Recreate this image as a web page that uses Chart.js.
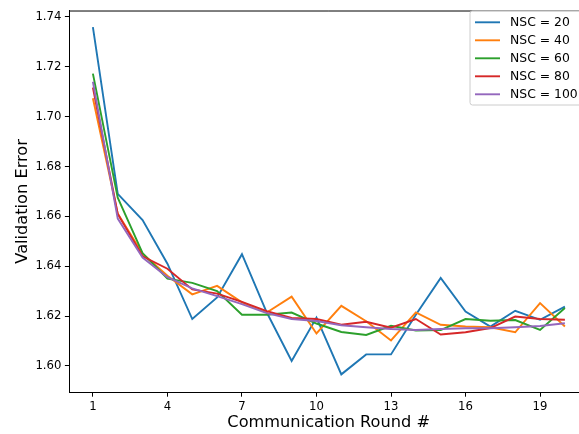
<!DOCTYPE html>
<html>
<head>
<meta charset="utf-8">
<script src="https://cdn.jsdelivr.net/npm/chart.js@4.4.1/dist/chart.umd.min.js"></script>
<style>
  html, body { margin: 0; padding: 0; background: #fff; overflow: hidden; width: 579px; height: 434px; }
  #wrap { position: relative; width: 590px; height: 434px; }
</style>
</head>
<body>
<div id="wrap"><canvas id="c" width="590" height="434"></canvas></div>
<script>
// Communication rounds and validation error per number of selected clients (NSC)
const rounds = [1, 2, 3, 4, 5, 6, 7, 8, 9, 10, 11, 12, 13, 14, 15, 16, 17, 18, 19, 20];
const nsc20  = [1.7359, 1.6690, 1.6585, 1.6410, 1.6188, 1.6275, 1.6448, 1.6214, 1.6020, 1.6194,
                1.5966, 1.6046, 1.6046, 1.6205, 1.6353, 1.6218, 1.6158, 1.6221, 1.6185, 1.6238];
const nsc40  = [1.7074, 1.6611, 1.6450, 1.6362, 1.6287, 1.6321, 1.6255, 1.6214, 1.6278, 1.6130,
                1.6241, 1.6179, 1.6102, 1.6215, 1.6165, 1.6158, 1.6155, 1.6135, 1.6252, 1.6158];
const nsc60  = [1.7173, 1.6675, 1.6452, 1.6350, 1.6333, 1.6300, 1.6205, 1.6205, 1.6214, 1.6170,
                1.6136, 1.6124, 1.6161, 1.6142, 1.6144, 1.6188, 1.6181, 1.6184, 1.6144, 1.6232];
const nsc80  = [1.7117, 1.6610, 1.6440, 1.6390, 1.6307, 1.6290, 1.6257, 1.6220, 1.6192, 1.6188,
                1.6165, 1.6177, 1.6153, 1.6188, 1.6126, 1.6135, 1.6152, 1.6198, 1.6188, 1.6185];
const nsc100 = [1.7140, 1.6591, 1.6435, 1.6356, 1.6311, 1.6280, 1.6248, 1.6212, 1.6188, 1.6180,
                1.6163, 1.6155, 1.6148, 1.6144, 1.6148, 1.6151, 1.6151, 1.6155, 1.6160, 1.6171];

const seriesLabels = ['NSC = 20', 'NSC = 40', 'NSC = 60', 'NSC = 80', 'NSC = 100'];
const seriesValues = [nsc20, nsc40, nsc60, nsc80, nsc100];
const seriesColors = ['#1f77b4', '#ff7f0e', '#2ca02c', '#d62728', '#9467bd'];

const xTicks = [1, 4, 7, 10, 13, 16, 19];
const yTicks = [1.60, 1.62, 1.64, 1.66, 1.68, 1.70, 1.72, 1.74];

const xTitle = 'Communication Round #';
const yTitle = 'Validation Error';

const FONT = '"DejaVu Sans", Verdana, sans-serif';

const datasets = seriesValues.map((vals, i) => ({
  label: seriesLabels[i],
  data: rounds.map((r, j) => ({ x: r, y: vals[j] })),
  borderColor: seriesColors[i],
  backgroundColor: seriesColors[i],
  borderWidth: 1.9,
  pointRadius: 0,
  tension: 0,
  fill: false,
  order: seriesValues.length - i   // later series painted on top
}));

// Spines, in-axes legend and axis titles
const decor = {
  id: 'decor',
  afterDraw(chart) {
    const { ctx, chartArea: a } = chart;
    ctx.save();
    // top and right spines
    ctx.strokeStyle = '#000';
    ctx.lineWidth = 1;
    ctx.beginPath();
    ctx.moveTo(a.left, a.top + 0.5);
    ctx.lineTo(a.right, a.top + 0.5);
    ctx.moveTo(a.right - 0.5, a.top);
    ctx.lineTo(a.right - 0.5, a.bottom);
    ctx.stroke();

    // legend
    const fs = 12.4;
    const bx = 470, by = 11, bw = a.right - 6.3 - bx, bh = 94, r = 2.5;
    ctx.beginPath();
    ctx.moveTo(bx + r, by);
    ctx.lineTo(bx + bw - r, by);
    ctx.arcTo(bx + bw, by, bx + bw, by + r, r);
    ctx.lineTo(bx + bw, by + bh - r);
    ctx.arcTo(bx + bw, by + bh, bx + bw - r, by + bh, r);
    ctx.lineTo(bx + r, by + bh);
    ctx.arcTo(bx, by + bh, bx, by + bh - r, r);
    ctx.lineTo(bx, by + r);
    ctx.arcTo(bx, by, bx + r, by, r);
    ctx.closePath();
    ctx.fillStyle = 'rgba(255,255,255,0.8)';
    ctx.fill();
    ctx.strokeStyle = '#cccccc';
    ctx.lineWidth = 1;
    ctx.stroke();

    ctx.font = fs + 'px ' + FONT;
    ctx.textAlign = 'left';
    ctx.textBaseline = 'middle';
    chart.data.datasets.forEach((ds, i) => {
      const y = 22.3 + i * 18;
      ctx.strokeStyle = ds.borderColor;
      ctx.lineWidth = 1.9;
      ctx.beginPath();
      ctx.moveTo(475, y);
      ctx.lineTo(500, y);
      ctx.stroke();
      ctx.fillStyle = '#000';
      ctx.fillText(ds.label, 510, y + 0.5);
    });

    // axis titles
    ctx.fillStyle = '#000';
    ctx.font = '16.2px ' + FONT;
    ctx.textAlign = 'center';
    ctx.textBaseline = 'alphabetic';
    ctx.fillText(xTitle, 328.7, 427);
    ctx.translate(27, (a.top + a.bottom) / 2);
    ctx.rotate(-Math.PI / 2);
    ctx.fillText(yTitle, 0, 0);
    ctx.restore();
  }
};

new Chart(document.getElementById('c'), {
  type: 'line',
  data: { datasets },
  options: {
    responsive: false,
    animation: false,
    devicePixelRatio: 1,
    layout: { padding: { top: 6.7, right: 1.5, left: 0, bottom: 0 } },
    plugins: { legend: { display: false }, tooltip: { enabled: false } },
    scales: {
      x: {
        type: 'linear',
        min: 0.05,
        max: 20.95,
        afterBuildTicks: s => { s.ticks = xTicks.map(v => ({ value: v })); },
        afterFit: s => { s.height = 41.7; },
        grid: { display: true, drawOnChartArea: false, drawTicks: true, tickLength: 4.4, color: '#000', lineWidth: 1 },
        border: { display: true, color: '#000', width: 1 },
        ticks: { color: '#000', font: { family: FONT, size: 11.7 }, padding: 3, maxRotation: 0, autoSkip: false,
                 callback: v => String(v) }
      },
      y: {
        type: 'linear',
        min: 1.5894,
        max: 1.7426,
        afterBuildTicks: s => { s.ticks = yTicks.map(v => ({ value: v })); },
        afterFit: s => { s.width = 69.3; },
        grid: { display: true, drawOnChartArea: false, drawTicks: true, tickLength: 4.4, color: '#000', lineWidth: 1 },
        border: { display: true, color: '#000', width: 1 },
        ticks: { color: '#000', font: { family: FONT, size: 11.7 }, padding: 3.5, autoSkip: false,
                 callback: v => Number(v).toFixed(2) }
      }
    }
  },
  plugins: [decor]
});
</script>
</body>
</html>
